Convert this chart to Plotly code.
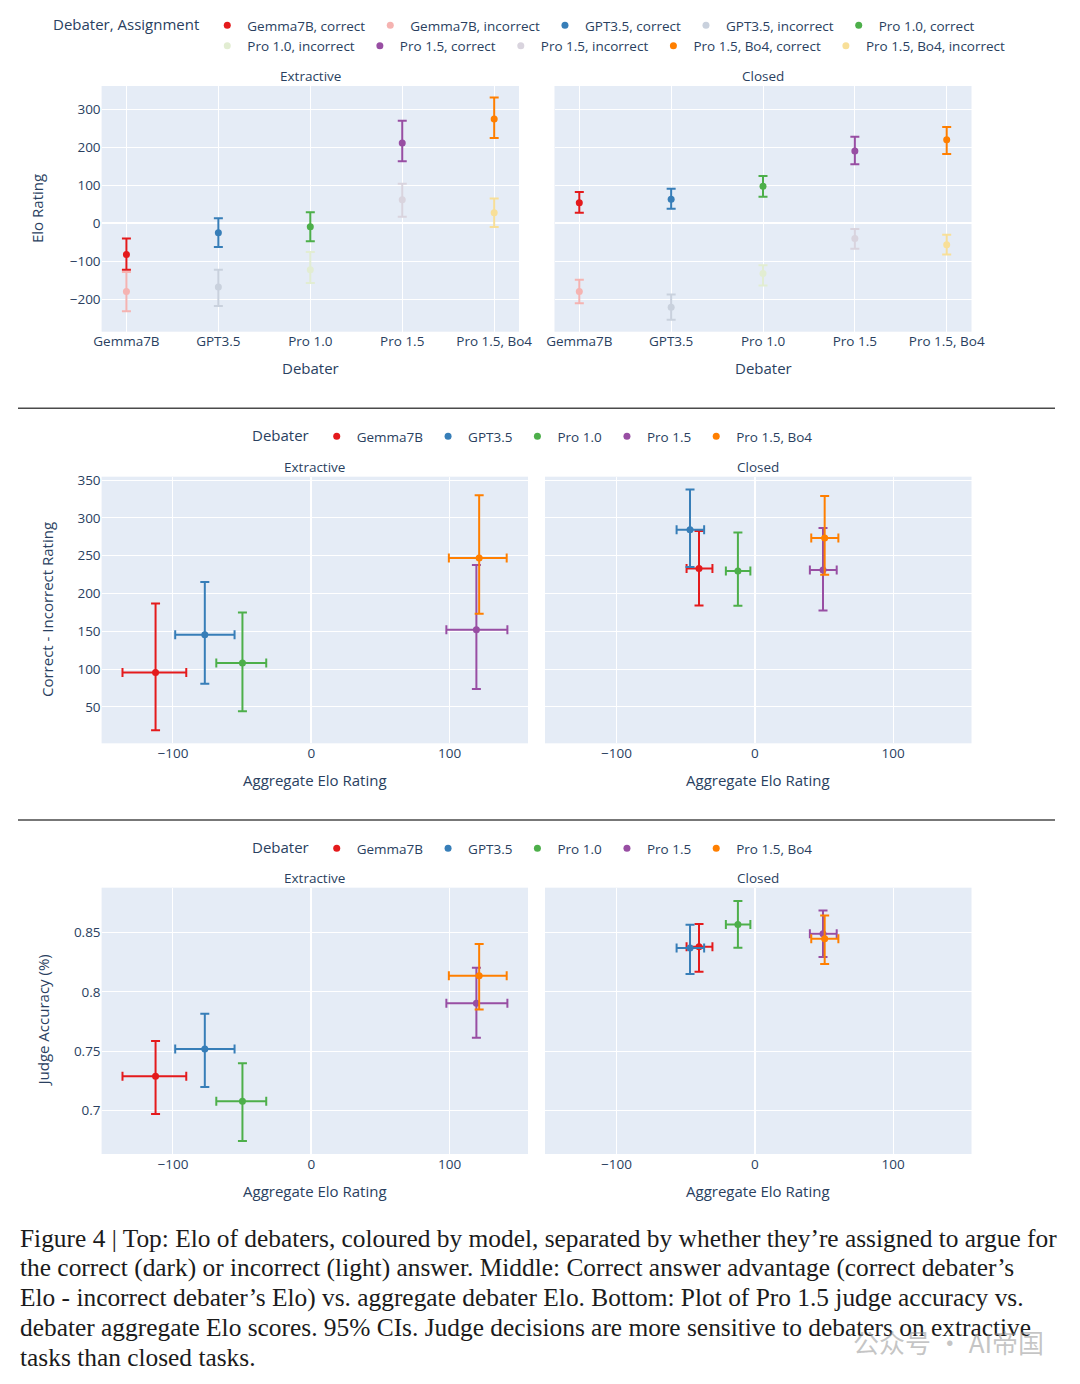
import plotly.graph_objects as go

debaters = ["Gemma7B", "GPT3.5", "Pro 1.0", "Pro 1.5", "Pro 1.5, Bo4"]
dark_colors = ["#e41a1c", "#377eb8", "#4daf4a", "#984ea3", "#ff7f00"]
light_colors = ["#f5b3b1", "#c9d1dd", "#e2edd2", "#d9d4de", "#f8df98"]

# Top: Elo per debater and assignment (centre, upper and lower 95% CI)
ext_correct = [-82, -25, -9, 211, 274]
ext_correct_hi = [-40, 13, 29, 269, 330]
ext_correct_lo = [-122, -62, -47, 163, 224]
ext_incorrect = [-179, -167, -122, 62, 28]
ext_incorrect_hi = [-128, -122, -75, 104, 65]
ext_incorrect_lo = [-231, -217, -157, 17, -10]

cls_correct = [54, 63, 97, 190, 219]
cls_correct_hi = [82, 91, 124, 227, 253]
cls_correct_lo = [28, 38, 70, 155, 182]
cls_incorrect = [-179, -220, -132, -40, -56]
cls_incorrect_hi = [-148, -187, -110, -15, -30]
cls_incorrect_lo = [-210, -253, -163, -67, -82]

# Aggregate Elo (x of middle and bottom rows)
agg_ext = [-112.6, -77.0, -49.8, 119.3, 121.3]
agg_ext_lo = [-136.5, -98.4, -68.7, 97.6, 99.4]
agg_ext_hi = [-90.4, -55.5, -32.6, 141.7, 141.2]
agg_cls = [-40.3, -46.8, -12.2, 49.3, 50.5]
agg_cls_lo = [-49.3, -56.5, -20.9, 39.8, 40.8]
agg_cls_hi = [-30.6, -36.6, -3.2, 59.2, 60.4]

# Middle: correct - incorrect rating
adv_ext = [95.4, 145.3, 107.8, 151.9, 246.8]
adv_ext_hi = [186.8, 215.0, 174.8, 237.5, 329.7]
adv_ext_lo = [19.1, 80.4, 44.2, 73.4, 173.1]
adv_cls = [233.1, 284.3, 229.6, 230.9, 273.2]
adv_cls_hi = [282.5, 337.6, 280.7, 286.5, 328.8]
adv_cls_lo = [184.1, 234.8, 183.7, 177.5, 224.7]

# Bottom: judge accuracy
acc_ext = [0.7289, 0.7519, 0.7078, 0.7903, 0.8135]
acc_ext_hi = [0.7586, 0.7816, 0.7398, 0.8203, 0.8402]
acc_ext_lo = [0.6972, 0.7199, 0.6745, 0.7614, 0.7852]
acc_cls = [0.8379, 0.8368, 0.8567, 0.8489, 0.8447]
acc_cls_hi = [0.8570, 0.8564, 0.8764, 0.8685, 0.8643]
acc_cls_lo = [0.8169, 0.8150, 0.8371, 0.8293, 0.8234]

caption_lines = [
    "Figure 4 | Top: Elo of debaters, coloured by model, separated by whether they’re assigned to argue for",
    "the correct (dark) or incorrect (light) answer. Middle: Correct answer advantage (correct debater’s",
    "Elo - incorrect debater’s Elo) vs. aggregate debater Elo. Bottom: Plot of Pro 1.5 judge accuracy vs.",
    "debater aggregate Elo scores. 95% CIs. Judge decisions are more sensitive to debaters on extractive",
    "tasks than closed tasks.",
]

# the page body adds 8px around the figure, so positions below are page pixels
PAD = 8
W, H = 1080 - PAD, 1384 - PAD
ML, MR = 88, 104
PW = W - ML - MR


def fx(px):
    return (px - PAD - ML) / PW


def fy(py):
    return 1 - (py - PAD) / H


def err(c, hi, lo, color):
    return dict(type="data", symmetric=False, array=[hi - c], arrayminus=[c - lo],
                color=color, thickness=2, width=4.5)


fig = go.Figure()

# top row
top_sets = [
    ("correct", dark_colors,
     [(ext_correct, ext_correct_hi, ext_correct_lo), (cls_correct, cls_correct_hi, cls_correct_lo)]),
    ("incorrect", light_colors,
     [(ext_incorrect, ext_incorrect_hi, ext_incorrect_lo), (cls_incorrect, cls_incorrect_hi, cls_incorrect_lo)]),
]
for i, name in enumerate(debaters):
    for assign, colors, panels in top_sets:
        label = f"{name}, {assign}"
        for k, (c, hi, lo) in enumerate(panels):
            fig.add_trace(go.Scatter(
                x=[name], y=[c[i]], mode="markers", name=label,
                marker=dict(color=colors[i], size=7),
                error_y=err(c[i], hi[i], lo[i], colors[i]),
                xaxis="x" if k == 0 else "x2", yaxis="y" if k == 0 else "y2",
                legend="legend", legendgroup=label, showlegend=(k == 0),
            ))

# middle and bottom rows
rows = [
    ("legend2", ("x3", "y3"), ("x4", "y4"),
     (adv_ext, adv_ext_hi, adv_ext_lo), (adv_cls, adv_cls_hi, adv_cls_lo)),
    ("legend3", ("x5", "y5"), ("x6", "y6"),
     (acc_ext, acc_ext_hi, acc_ext_lo), (acc_cls, acc_cls_hi, acc_cls_lo)),
]
for leg, ax_e, ax_c, yv_e, yv_c in rows:
    for i, name in enumerate(debaters):
        col = dark_colors[i]
        for k, (axes, xv, yv) in enumerate([
            (ax_e, (agg_ext, agg_ext_hi, agg_ext_lo), yv_e),
            (ax_c, (agg_cls, agg_cls_hi, agg_cls_lo), yv_c),
        ]):
            fig.add_trace(go.Scatter(
                x=[xv[0][i]], y=[yv[0][i]], mode="markers", name=name,
                marker=dict(color=col, size=7),
                error_x=err(xv[0][i], xv[1][i], xv[2][i], col),
                error_y=err(yv[0][i], yv[1][i], yv[2][i], col),
                xaxis=axes[0], yaxis=axes[1],
                legend=leg, legendgroup=leg + name, showlegend=(k == 0),
            ))

tick_font = dict(size=13.5)
cat_x = dict(type="category", categoryorder="array", categoryarray=debaters,
             range=[-0.27, 4.27], tickfont=tick_font, automargin=False)
elo_x = dict(range=[-151.6, 156.6], dtick=100, tickfont=tick_font, automargin=False)


def legend_box(title, px, py):
    return dict(orientation="h", x=fx(px), xanchor="center", y=fy(py), yanchor="top",
                title=dict(text=title, side="left", font=dict(size=15)),
                font=dict(size=13.5), tracegroupgap=0, bgcolor="rgba(0,0,0,0)")


fig.update_layout(
    width=W, height=H,
    margin=dict(l=ML, r=MR, t=0, b=0),
    font=dict(family="Open Sans", size=13.5, color="#2a3f5f"),
    paper_bgcolor="white",
    plot_bgcolor="#E5ECF6",
    xaxis=dict(cat_x, domain=[fx(101.6), fx(519)], anchor="y"),
    xaxis2=dict(cat_x, domain=[fx(554.5), fx(971.5)], anchor="y2"),
    yaxis=dict(domain=[fy(331.7), fy(86)], range=[-284.5, 360.4], dtick=100,
               tickfont=tick_font, automargin=False, anchor="x"),
    yaxis2=dict(domain=[fy(331.7), fy(86)], matches="y", showticklabels=False,
                automargin=False, anchor="x2"),
    xaxis3=dict(elo_x, domain=[fx(101.6), fx(528)], anchor="y3"),
    xaxis4=dict(elo_x, domain=[fx(545), fx(971.5)], anchor="y4"),
    yaxis3=dict(domain=[fy(743.3), fy(476.7)], range=[1.7, 354.4], dtick=50,
                tickfont=tick_font, automargin=False, anchor="x3"),
    yaxis4=dict(domain=[fy(743.3), fy(476.7)], matches="y3", showticklabels=False,
                automargin=False, anchor="x4"),
    xaxis5=dict(elo_x, domain=[fx(101.6), fx(528)], anchor="y5"),
    xaxis6=dict(elo_x, domain=[fx(545), fx(971.5)], anchor="y6"),
    yaxis5=dict(domain=[fy(1154), fy(887.7)], range=[0.6635, 0.8876], dtick=0.05,
                tickfont=tick_font, automargin=False, anchor="x5"),
    yaxis6=dict(domain=[fy(1154), fy(887.7)], matches="y5", showticklabels=False,
                automargin=False, anchor="x6"),
    legend=legend_box("Debater, Assignment", 531, 10),
    legend2=legend_box("Debater", 534, 421),
    legend3=legend_box("Debater", 534, 833),
)

notes = [
    # subplot titles
    ("Extractive", 310.3, 76, 13.5, 0), ("Closed", 763, 76, 13.5, 0),
    ("Extractive", 314.8, 466.7, 13.5, 0), ("Closed", 758.3, 466.7, 13.5, 0),
    ("Extractive", 314.8, 878, 13.5, 0), ("Closed", 758.3, 878, 13.5, 0),
    # axis titles
    ("Debater", 310.3, 368, 15, 0), ("Debater", 763, 368, 15, 0),
    ("Aggregate Elo Rating", 314.8, 780, 15, 0), ("Aggregate Elo Rating", 758.3, 780, 15, 0),
    ("Aggregate Elo Rating", 314.8, 1191, 15, 0), ("Aggregate Elo Rating", 758.3, 1191, 15, 0),
    ("Elo Rating", 37, 209, 15, -90),
    ("Correct - Incorrect Rating", 47, 610, 15, -90),
    ("Judge Accuracy (%)", 42.5, 1021, 15, -90),
]
for text, px, py, size, ang in notes:
    fig.add_annotation(text=text, x=fx(px), y=fy(py), xref="paper", yref="paper",
                       xanchor="center", yanchor="middle", showarrow=False,
                       textangle=ang, font=dict(size=size))

# caption, one annotation per printed line
for n, line in enumerate(caption_lines):
    fig.add_annotation(
        text=line, x=fx(18), y=fy(1238 + 29.7 * n), xref="paper", yref="paper",
        xanchor="left", yanchor="middle", align="left", showarrow=False,
        font=dict(family="Liberation Serif", size=25.4, color="#1b1b1b"),
    )
fig.add_annotation(
    text="公众号 · AI帝国", x=fx(1046), y=fy(1341), xref="paper", yref="paper",
    xanchor="right", yanchor="middle", showarrow=False,
    font=dict(family="Noto Sans CJK SC", size=26, color="rgba(140,140,140,0.5)"),
)

# separators between the three panels
for py in (408.3, 820):
    fig.add_shape(type="line", xref="paper", yref="paper",
                  x0=fx(18), x1=fx(1055), y0=fy(py), y1=fy(py),
                  line=dict(color="#4a4a4a", width=1.5))

fig.write_html("out.html")
